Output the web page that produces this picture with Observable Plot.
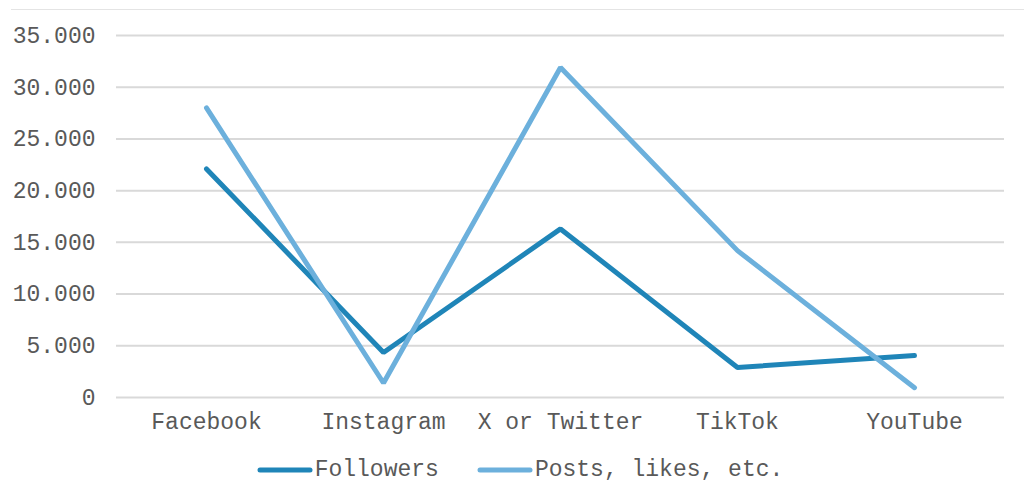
<!DOCTYPE html>
<html>
<head>
<meta charset="utf-8">
<script src="https://cdn.jsdelivr.net/npm/d3@7"></script>
<script src="https://cdn.jsdelivr.net/npm/@observablehq/plot@0.6"></script>
<style>
  html, body { margin: 0; padding: 0; background: #fff; }
  #wrap { position: relative; width: 1024px; height: 498px; overflow: hidden; }
  #topline { position: absolute; left: 11px; right: 0; top: 9px; height: 0; border-top: 1px solid #e4e4e4; }
  #chart { position: absolute; left: 0; top: 0; }
  #legend { position: absolute; left: 8px; width: 1024px; top: 457px; display: flex; justify-content: center; align-items: center;
            font-family: 'Liberation Mono', 'Courier New', monospace; font-size: 23px; color: #595959; }
  .item { display: flex; align-items: center; margin: 0 19px; }
  .item svg { margin-right: 2px; }
</style>
</head>
<body>
<div id="wrap">
  <div id="topline"></div>
  <div id="chart"></div>
  <div id="legend"></div>
</div>
<script>
const categories = ["Facebook", "Instagram", "X or Twitter", "TikTok", "YouTube"];
const followers = [22100, 4350, 16300, 2900, 4050];
const posts = [28000, 1400, 31900, 14200, 950];
const seriesNames = ["Followers", "Posts, likes, etc."];
const seriesColors = ["#1f85b8", "#6cb0dc"];
const yTicks = [0, 5000, 10000, 15000, 20000, 25000, 30000, 35000];

const fmt = d3.formatLocale({decimal: ",", thousands: ".", grouping: [3], currency: ["", "€"]}).format(",d");

const rows = [];
categories.forEach((c, i) => {
  rows.push({category: c, series: seriesNames[0], value: followers[i]});
});
categories.forEach((c, i) => {
  rows.push({category: c, series: seriesNames[1], value: posts[i]});
});

const chart = Plot.plot({
  width: 1024,
  height: 445,
  marginTop: 35,
  marginBottom: 48,
  marginLeft: 116,
  marginRight: 20,
  style: {fontFamily: "'Liberation Mono', 'Courier New', monospace", fontSize: "23px", color: "#595959", background: "transparent"},
  x: {type: "point", domain: categories, padding: 0.5, label: null},
  y: {domain: [0, 35000], label: null},
  color: {domain: seriesNames, range: seriesColors},
  marks: [
    Plot.ruleY(yTicks, {stroke: "#d9d9d9", strokeWidth: 2}),
    Plot.axisY({ticks: yTicks, tickSize: 0, tickPadding: 21, tickFormat: fmt, label: null, fill: "#595959"}),
    Plot.axisX({tickSize: 0, tickPadding: 15, label: null, fill: "#595959"}),
    Plot.line(rows, {x: "category", y: "value", z: "series", stroke: "series", strokeWidth: 5, strokeLinecap: "round", strokeLinejoin: "miter"})
  ]
});
document.getElementById("chart").appendChild(chart);

const legend = document.getElementById("legend");
seriesNames.forEach((name, i) => {
  const item = document.createElement("div");
  item.className = "item";
  item.innerHTML = `<svg width="56" height="10"><line x1="3" y1="5" x2="53" y2="5" stroke="${seriesColors[i]}" stroke-width="5" stroke-linecap="round"/></svg><span>${name}</span>`;
  legend.appendChild(item);
});
</script>
</body>
</html>
